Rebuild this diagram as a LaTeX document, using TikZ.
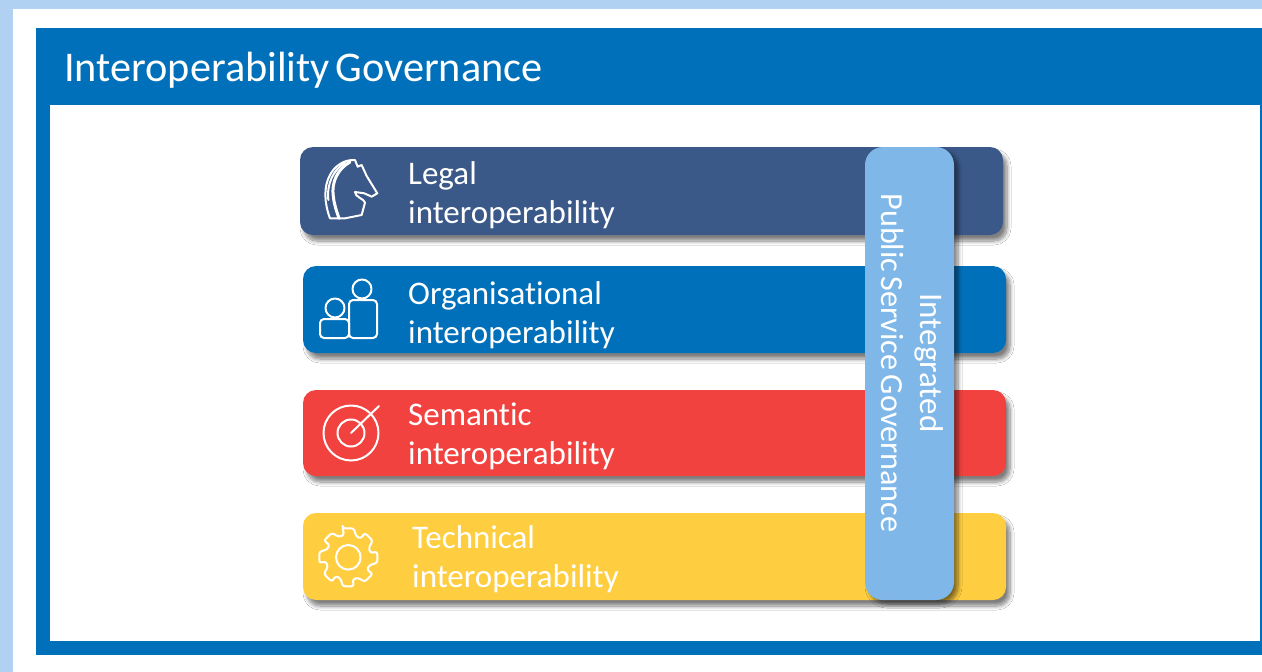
\documentclass[tikz,border=0pt]{standalone}
\usepackage{fontspec}
\setmainfont[Ligatures=NoCommon,WordSpace=0.6]{Carlito}
\usetikzlibrary{shadows.blur}
\definecolor{paleblue}{HTML}{B0D1F2}
\definecolor{euroblue}{HTML}{0070BA}
\definecolor{legalblue}{HTML}{3A5888}
\definecolor{semred}{HTML}{F2423F}
\definecolor{techyellow}{HTML}{FFCE40}
\definecolor{govblue}{HTML}{7FB8E8}
\tikzset{
  layerbar/.style={rounded corners=13pt,blur shadow={shadow xshift=4pt,shadow yshift=-6pt,shadow blur steps=8,shadow blur radius=4pt,shadow opacity=50}},
  layertext/.style={text=white,font=\fontsize{33}{39}\selectfont,align=left,anchor=west,inner sep=0pt},
  iconline/.style={white,line width=2pt,line join=round,line cap=round}
}
\begin{document}
\begin{tikzpicture}[x=1pt,y=-1pt]
  \useasboundingbox (0,0) rectangle (1262,672);
  \fill[paleblue] (0,0) rectangle (1262,672);
  \fill[white] (13,9) rectangle (1262,672);
  \fill[euroblue] (36,28) rectangle (1262,655);
  \fill[white] (50,105) rectangle (1260,641);
  \node[text=white,font=\fontsize{42.3}{48}\selectfont,anchor=west,inner sep=0pt] (title) at (64,70) {Interoperability Governance};
  % layers
  \fill[legalblue,layerbar] (300,147) rectangle (1003,235);
  \fill[euroblue,layerbar] (303,266) rectangle (1006,353);
  \fill[semred,layerbar] (303,390) rectangle (1006,476);
  \fill[techyellow,layerbar] (303,513) rectangle (1006,600);
  \node[layertext] (legal) at (408,195) {Legal\\interoperability};
  \node[layertext] (organisational) at (408,315.5) {Organisational\\interoperability};
  \node[layertext] (semantic) at (408,436) {Semantic\\interoperability};
  \node[layertext] (technical) at (412,559.5) {Technical\\interoperability};
  % vertical bar
  \fill[govblue,rounded corners=18pt,blur shadow={shadow xshift=4pt,shadow yshift=-4pt,shadow blur steps=8,shadow blur radius=4pt,shadow opacity=50}] (865,147) rectangle (954,600);
  \node[rotate=270,text=white,font=\fontsize{33}{39}\selectfont,align=center,inner sep=0pt] (governance) at (912,363) {Integrated\\\fontsize{32.2}{39}\selectfont Public Service Governance};
  % horse
  \begin{scope}[shift={(315,150)},x=0.3333pt,y=-0.3333pt,iconline]
    \draw (45,205) .. controls (28,160) and (25,110) .. (45,75) .. controls (58,50) and (85,28) .. (120,30)
      -- (128,50) -- (140,45) -- (155,78) -- (187,130) -- (170,140) -- (148,130) -- (120,126)
      .. controls (118,140) and (150,148) .. (150,158) -- (140,195) -- (90,205) -- cycle;
    \draw[line width=3pt] (105,36) .. controls (70,55) and (48,95) .. (55,140) .. controls (58,165) and (65,185) .. (72,205);
    \draw (90,38) .. controls (55,60) and (35,100) .. (40,150);
  \end{scope}
  % persons
  \draw[iconline] (362,289) circle (9.5);
  \draw[iconline,rounded corners=4pt] (349,300) rectangle (377,338);
  \draw[iconline] (335,308) circle (9.5);
  \draw[iconline,rounded corners=4pt] (320,319) rectangle (349,338);
  % target
  \draw[iconline] (351,433) circle (27.5);
  \draw[iconline] (351,433) circle (13.5);
  \draw[iconline] (351,433) -- (379,406);
  % gear
  \begin{scope}[shift={(348.3,557.3)}]
    \draw[iconline] (0,0) circle (12.3);
    \draw[iconline,rounded corners=2.5pt] (-101:29.5)
      \foreach \a in {0,45,...,315} {
        -- (\a-101:29.5) -- (\a-79:29.5) -- (\a-70:22.5) -- (\a-56:22.5)
      } -- cycle;
  \end{scope}
\end{tikzpicture}
\end{document}
